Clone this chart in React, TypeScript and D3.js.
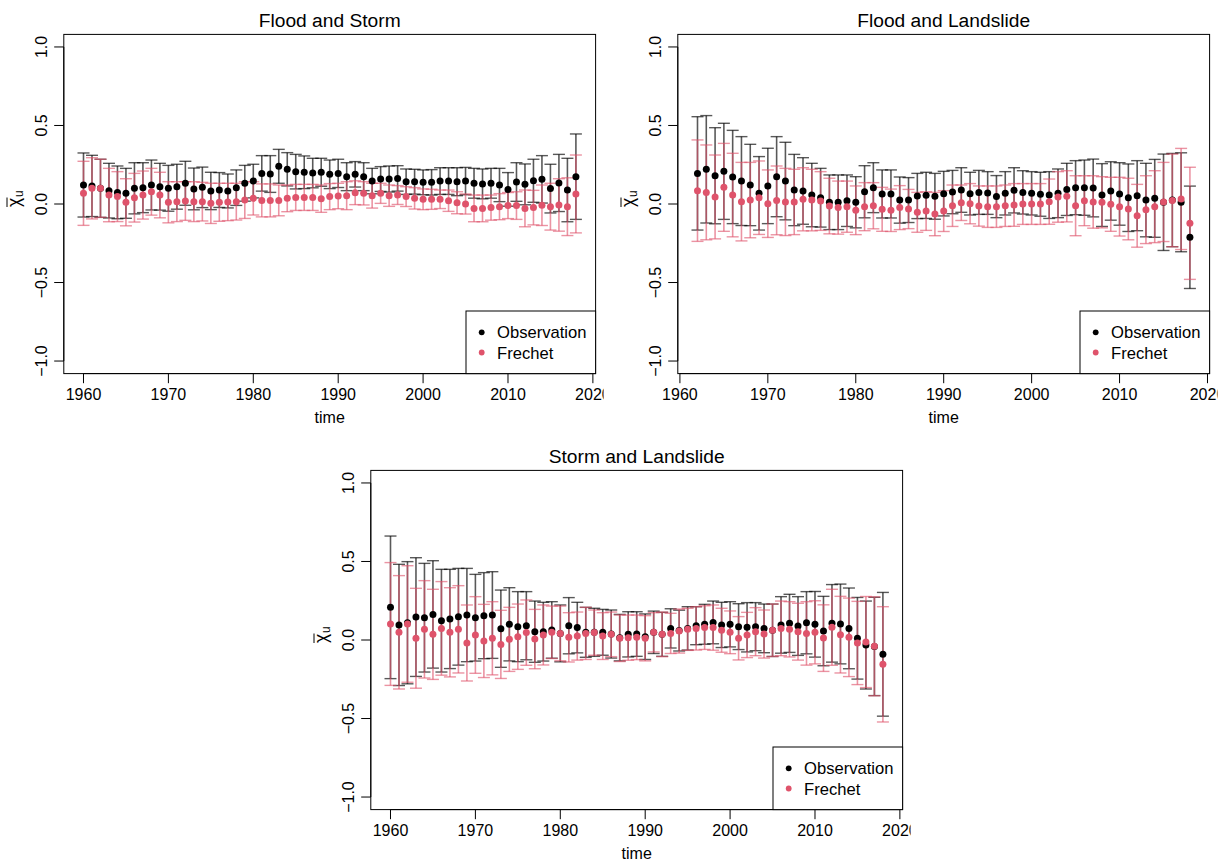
import React from "react";
import * as d3 from "d3";

// ---------- data ----------
const titles = ["Flood and Storm", "Flood and Landslide", "Storm and Landslide"];
const startYears = [1960, 1962, 1960];
const endYear = 2018;
const xTicks = [1960, 1970, 1980, 1990, 2000, 2010, 2020];
const yTicks = [-1, -0.5, 0, 0.5, 1];
const legendLabels = ["Observation", "Frechet"];

// Panel 1: Flood and Storm (1960-2018)
const obs1 = [0.121, 0.115, 0.1, 0.085, 0.074, 0.068, 0.1, 0.104, 0.121, 0.11,
  0.1, 0.11, 0.132, 0.096, 0.106, 0.083, 0.089, 0.083, 0.104, 0.132,
  0.146, 0.195, 0.191, 0.24, 0.221, 0.206, 0.202, 0.197, 0.202, 0.189,
  0.195, 0.174, 0.189, 0.174, 0.146, 0.159, 0.159, 0.163, 0.142, 0.142,
  0.138, 0.138, 0.146, 0.146, 0.142, 0.146, 0.132, 0.128, 0.132, 0.121,
  0.093, 0.14, 0.125, 0.148, 0.157, 0.098, 0.134, 0.089, 0.174];
const obsHw1 = [0.204, 0.195, 0.185, 0.174, 0.168, 0.159, 0.163, 0.159, 0.159, 0.149,
  0.146, 0.143, 0.14, 0.133, 0.129, 0.119, 0.111, 0.108, 0.113, 0.114,
  0.107, 0.113, 0.117, 0.108, 0.106, 0.11, 0.104, 0.094, 0.089, 0.091,
  0.09, 0.089, 0.081, 0.089, 0.081, 0.079, 0.083, 0.081, 0.081, 0.079,
  0.079, 0.081, 0.085, 0.085, 0.089, 0.087, 0.095, 0.095, 0.095, 0.106,
  0.107, 0.123, 0.13, 0.137, 0.151, 0.155, 0.182, 0.202, 0.272];
const fre1 = [0.068, 0.1, 0.1, 0.057, 0.047, 0.011, 0.04, 0.057, 0.078, 0.057,
  0.011, 0.015, 0.019, 0.015, 0.015, 0.004, 0.011, 0.013, 0.015, 0.025,
  0.036, 0.023, 0.023, 0.023, 0.036, 0.042, 0.042, 0.042, 0.034, 0.047,
  0.051, 0.053, 0.072, 0.068, 0.053, 0.068, 0.053, 0.057, 0.047, 0.036,
  0.03, 0.03, 0.03, 0.021, 0.008, 0.0, -0.028, -0.028, -0.023, -0.017,
  -0.01, -0.01, -0.028, -0.023, -0.008, -0.017, -0.006, -0.017, 0.064];
const freHw1 = [0.204, 0.195, 0.185, 0.17, 0.159, 0.15, 0.155, 0.153, 0.149, 0.145,
  0.131, 0.127, 0.123, 0.127, 0.123, 0.128, 0.121, 0.119, 0.117, 0.117,
  0.106, 0.105, 0.105, 0.098, 0.085, 0.083, 0.083, 0.083, 0.087, 0.083,
  0.081, 0.089, 0.076, 0.074, 0.079, 0.064, 0.068, 0.06, 0.063, 0.068,
  0.066, 0.064, 0.059, 0.068, 0.07, 0.064, 0.085, 0.085, 0.08, 0.083,
  0.083, 0.088, 0.117, 0.11, 0.129, 0.149, 0.167, 0.184, 0.248];

// Panel 2: Flood and Landslide (1962-2018)
const obs2 = [0.195, 0.221, 0.18, 0.208, 0.172, 0.146, 0.121, 0.068, 0.115, 0.174,
  0.146, 0.089, 0.083, 0.057, 0.04, 0.011, 0.011, 0.021, 0.011, 0.078,
  0.104, 0.064, 0.064, 0.025, 0.025, 0.051, 0.055, 0.049, 0.066, 0.076,
  0.089, 0.066, 0.074, 0.07, 0.047, 0.068, 0.087, 0.074, 0.068, 0.062,
  0.057, 0.068, 0.093, 0.104, 0.104, 0.102, 0.057, 0.083, 0.064, 0.04,
  0.053, 0.025, 0.036, 0.011, 0.025, 0.011, -0.212];
const obsHw2 = [0.361, 0.342, 0.306, 0.306, 0.297, 0.283, 0.259, 0.234, 0.24, 0.255,
  0.247, 0.227, 0.212, 0.202, 0.187, 0.174, 0.174, 0.164, 0.163, 0.166,
  0.159, 0.153, 0.153, 0.147, 0.143, 0.144, 0.147, 0.146, 0.142, 0.138,
  0.142, 0.136, 0.14, 0.136, 0.134, 0.138, 0.144, 0.138, 0.138, 0.14,
  0.149, 0.155, 0.166, 0.172, 0.176, 0.184, 0.2, 0.186, 0.199, 0.215,
  0.223, 0.234, 0.248, 0.307, 0.297, 0.315, 0.326];
const fre2 = [0.085, 0.074, 0.045, 0.106, 0.057, 0.015, 0.025, 0.04, 0.002, 0.023,
  0.013, 0.013, 0.03, 0.025, 0.019, -0.013, -0.023, -0.017, -0.04, -0.017,
  -0.011, -0.034, -0.04, -0.023, -0.032, -0.053, -0.045, -0.064, -0.045, -0.011,
  0.008, 0.002, -0.013, -0.017, -0.017, -0.011, -0.006, 0.0, 0.0, 0.0,
  0.015, 0.045, 0.049, -0.011, 0.021, 0.013, 0.011, -0.002, -0.017, -0.032,
  -0.075, -0.036, -0.017, 0.013, 0.023, 0.032, -0.123];
const freHw2 = [0.323, 0.302, 0.267, 0.28, 0.266, 0.25, 0.24, 0.234, 0.215, 0.219,
  0.214, 0.208, 0.201, 0.196, 0.187, 0.177, 0.169, 0.163, 0.155, 0.153,
  0.147, 0.14, 0.135, 0.14, 0.125, 0.127, 0.123, 0.138, 0.13, 0.132,
  0.113, 0.128, 0.128, 0.132, 0.132, 0.132, 0.136, 0.13, 0.13, 0.13,
  0.144, 0.161, 0.163, 0.191, 0.159, 0.167, 0.163, 0.172, 0.187, 0.196,
  0.2, 0.216, 0.229, 0.252, 0.295, 0.322, 0.357];

// Panel 3: Storm and Landslide (1960-2018)
const obs3 = [0.208, 0.096, 0.11, 0.146, 0.142, 0.163, 0.123, 0.134, 0.148, 0.159,
  0.142, 0.155, 0.159, 0.072, 0.1, 0.085, 0.091, 0.053, 0.053, 0.064,
  0.042, 0.091, 0.079, 0.049, 0.049, 0.049, 0.038, 0.015, 0.036, 0.038,
  0.021, 0.049, 0.036, 0.074, 0.06, 0.074, 0.091, 0.1, 0.112, 0.096,
  0.1, 0.085, 0.081, 0.085, 0.074, 0.062, 0.096, 0.106, 0.089, 0.11,
  0.1, 0.057, 0.106, 0.102, 0.074, 0.011, -0.032, -0.041, -0.091];
const obsHw3 = [0.454, 0.386, 0.389, 0.378, 0.346, 0.342, 0.327, 0.316, 0.308, 0.297,
  0.276, 0.274, 0.276, 0.246, 0.233, 0.223, 0.217, 0.195, 0.187, 0.18,
  0.181, 0.179, 0.161, 0.159, 0.153, 0.146, 0.153, 0.148, 0.144, 0.142,
  0.145, 0.135, 0.14, 0.125, 0.13, 0.138, 0.121, 0.127, 0.136, 0.144,
  0.144, 0.146, 0.157, 0.153, 0.155, 0.167, 0.18, 0.185, 0.187, 0.198,
  0.209, 0.221, 0.247, 0.254, 0.257, 0.26, 0.28, 0.313, 0.394];
const fre3 = [0.102, 0.049, 0.102, 0.011, 0.068, 0.036, 0.074, 0.049, 0.068, -0.019,
  0.032, -0.006, 0.011, -0.028, 0.004, 0.021, 0.047, 0.006, 0.032, 0.049,
  0.042, 0.017, 0.025, 0.042, 0.047, 0.025, 0.036, 0.011, 0.015, 0.017,
  0.011, 0.049, 0.036, 0.042, 0.057, 0.068, 0.074, 0.079, 0.079, 0.062,
  0.049, 0.011, 0.032, 0.053, 0.038, 0.062, 0.074, 0.068, 0.053, 0.042,
  0.049, 0.012, 0.081, 0.034, 0.017, -0.019, -0.013, -0.04, -0.155];
const freHw3 = [0.391, 0.361, 0.371, 0.318, 0.31, 0.287, 0.298, 0.284, 0.278, 0.242,
  0.244, 0.233, 0.233, 0.217, 0.204, 0.208, 0.208, 0.189, 0.191, 0.167,
  0.174, 0.157, 0.153, 0.166, 0.144, 0.149, 0.142, 0.148, 0.144, 0.142,
  0.144, 0.125, 0.142, 0.128, 0.14, 0.134, 0.138, 0.139, 0.144, 0.14,
  0.136, 0.138, 0.144, 0.153, 0.153, 0.167, 0.174, 0.176, 0.181, 0.202,
  0.201, 0.212, 0.242, 0.244, 0.25, 0.265, 0.29, 0.315, 0.367];

const obsSeries = [obs1, obs2, obs3];
const obsHwSeries = [obsHw1, obsHw2, obsHw3];
const freSeries = [fre1, fre2, fre3];
const freHwSeries = [freHw1, freHw2, freHw3];

// ---------- styling / layout ----------
const FONT = "'Liberation Sans', Arial, Helvetica, sans-serif";
const OBS_COL = "#000000";
const FRE_COL = "#DF536B";
const panelOffsets = [[0, 0], [614, 0], [307, 436]];
const PL = 63.8, PR = 595.6, PT = 34.4, PB = 373.6;
const CLIP_R = 603.6;

function Panel({ idx }: { idx: number }) {
  const [ox, oy] = panelOffsets[idx];
  const start = startYears[idx];
  const obs = obsSeries[idx];
  const obsHw = obsHwSeries[idx];
  const fre = freSeries[idx];
  const freHw = freHwSeries[idx];
  const years = obs.map((_, i) => start + i);
  const span = endYear - start;
  const x = d3.scaleLinear().domain([start - 0.04 * span, endYear + 0.04 * span]).range([PL, PR]);
  const y = d3.scaleLinear().domain([-1.08, 1.08]).range([PB, PT]);
  const cap = 6;
  const fmt = (v: number) => (v < 0 ? "\u2212" : "") + Math.abs(v).toFixed(1);
  const cx = (PL + PR) / 2;
  const cy = (PT + PB) / 2;
  const clipId = `clip-panel-${idx}`;

  const bars = (vals: number[], hws: number[], col: string, op: number) =>
    vals.map((v, i) => {
      const xx = x(years[i]);
      const hi = y(v + hws[i]);
      const lo = y(v - hws[i]);
      return (
        <g key={i} stroke={col} strokeOpacity={op} fill="none">
          <line x1={xx} x2={xx} y1={hi} y2={lo} strokeWidth={1.6} />
          <line x1={xx - cap} x2={xx + cap} y1={hi} y2={hi} strokeWidth={1.4} />
          <line x1={xx - cap} x2={xx + cap} y1={lo} y2={lo} strokeWidth={1.4} />
        </g>
      );
    });

  const dots = (vals: number[], col: string) =>
    vals.map((v, i) => <circle key={i} cx={x(years[i])} cy={y(v)} r={3.5} fill={col} />);

  return (
    <g transform={`translate(${ox},${oy})`} fontFamily={FONT}>
      <defs>
        <clipPath id={clipId}>
          <rect x={-10} y={0} width={CLIP_R + 10} height={436} />
        </clipPath>
      </defs>
      <text x={cx} y={26.5} textAnchor="middle" fontSize={19.2} fill="#000">{titles[idx]}</text>
      <g>
        {bars(obs, obsHw, OBS_COL, 0.65)}
        {bars(fre, freHw, FRE_COL, 0.62)}
        {dots(obs, OBS_COL)}
        {dots(fre, FRE_COL)}
      </g>
      <rect x={PL} y={PT} width={PR - PL} height={PB - PT} fill="none" stroke="#000" strokeWidth={1} />
      {/* x axis */}
      <g clipPath={`url(#${clipId})`}>
        <line x1={x(xTicks[0])} x2={x(xTicks[xTicks.length - 1])} y1={PB} y2={PB} stroke="#000" />
        {xTicks.map((t) => (
          <g key={t}>
            <line x1={x(t)} x2={x(t)} y1={PB} y2={PB + 9.6} stroke="#000" />
            <text x={x(t)} y={400} textAnchor="middle" fontSize={16} fill="#000">{t}</text>
          </g>
        ))}
      </g>
      <text x={cx} y={423} textAnchor="middle" fontSize={16} fill="#000">time</text>
      {/* y axis */}
      <line x1={PL} x2={PL} y1={y(-1)} y2={y(1)} stroke="#000" />
      {yTicks.map((t) => (
        <g key={t}>
          <line x1={PL - 9.6} x2={PL} y1={y(t)} y2={y(t)} stroke="#000" />
          <text transform={`translate(47,${y(t)}) rotate(-90)`} textAnchor="middle" fontSize={16} fill="#000">{fmt(t)}</text>
        </g>
      ))}
      <g transform={`translate(20,${cy - 4}) rotate(-90)`} fill="#000">
        <text x={-7} y={0} fontSize={17.5}>χ</text>
        <line x1={-7} x2={2.5} y1={-13} y2={-13} stroke="#000" strokeWidth={1} />
        <text x={3} y={3} fontSize={12}>u</text>
      </g>
      {/* legend */}
      <g>
        <rect x={466} y={311} width={PR - 466} height={PB - 311} fill="#fff" stroke="#000" strokeWidth={1} />
        <circle cx={481.7} cy={332.3} r={2.9} fill={OBS_COL} />
        <circle cx={481.7} cy={352.5} r={2.9} fill={FRE_COL} />
        <text x={497} y={338} fontSize={16.6} fill="#000">{legendLabels[0]}</text>
        <text x={497} y={358.5} fontSize={16.6} fill="#000">{legendLabels[1]}</text>
      </g>
    </g>
  );
}

export default function App() {
  return (
    <svg
      width={1228}
      height={862}
      style={{ position: "absolute", left: 0, top: 0, background: "#fff" }}
      xmlns="http://www.w3.org/2000/svg"
    >
      <rect x={0} y={0} width={1228} height={862} fill="#fff" />
      <Panel idx={0} />
      <Panel idx={1} />
      <Panel idx={2} />
    </svg>
  );
}
